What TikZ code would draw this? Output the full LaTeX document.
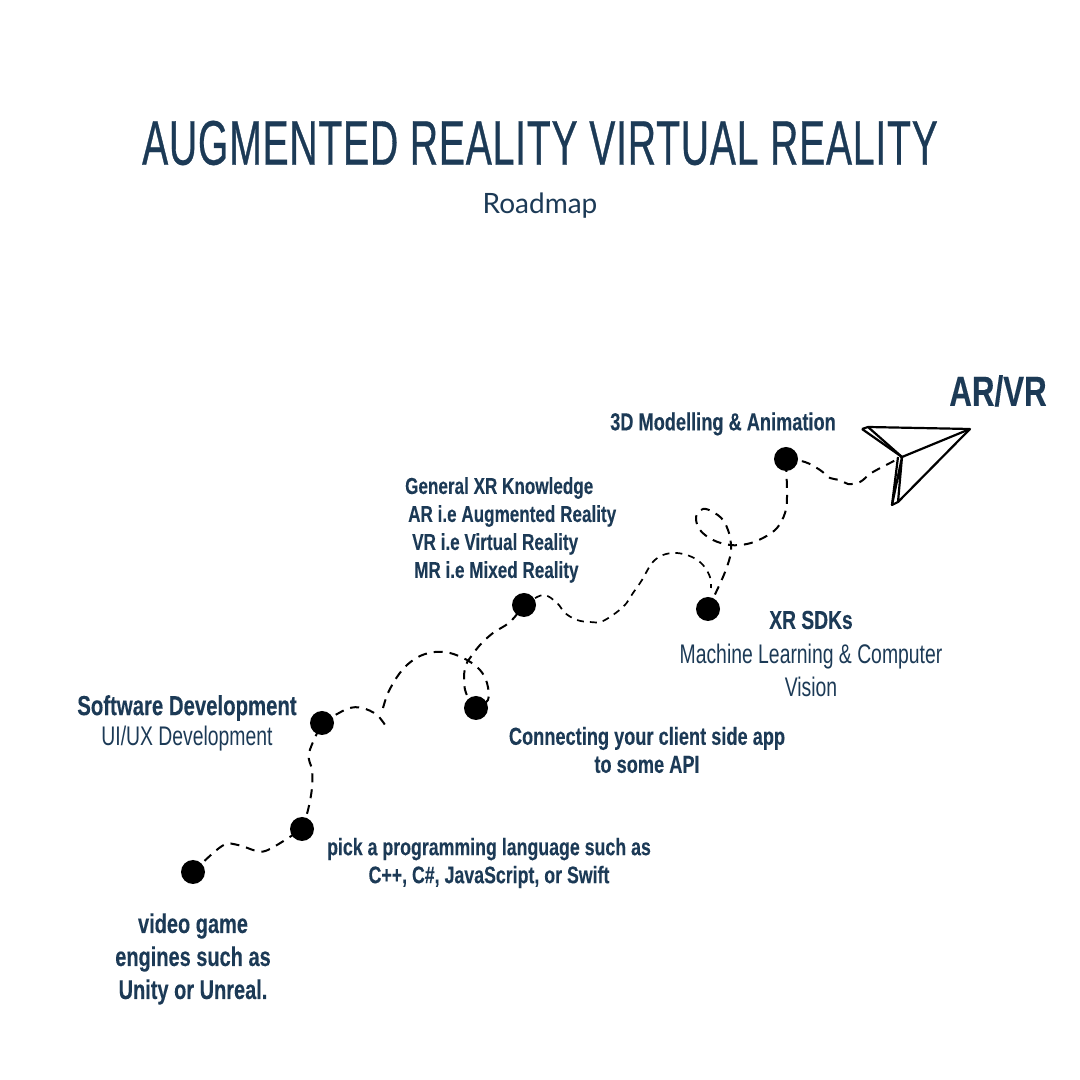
\documentclass[tikz,border=0pt]{standalone}
\usepackage{fontspec}
\usepackage{tikz}
\setmainfont{Lato}
\newfontfamily\titlefont[FakeStretch=0.62,FakeBold=0.5,LetterSpace=1.3]{Liberation Sans}
\newfontfamily\headfont[FakeStretch=0.72]{Liberation Sans}
\newfontfamily\headboldfont[FakeStretch=0.74,FakeBold=0.2]{Liberation Sans Bold}
\definecolor{navy}{HTML}{1C3A56}
\tikzset{
	spot/.style={circle,fill=black,minimum size=24pt,inner sep=0pt},
	trail/.style={black,line width=2pt,dash pattern=on 9pt off 7pt},
	finetrail/.style={black,line width=1.7pt,dash pattern=on 7pt off 6pt},
	wing/.style={black,line width=2.2pt,line join=round},
	boldlabel/.style={text=navy,inner sep=0pt,align=center,font=\headboldfont\fontsize{24}{28}\selectfont},
	plainlabel/.style={text=navy,inner sep=0pt,align=center,font=\headfont\fontsize{26.9}{33}\selectfont}
}
\begin{document}
\begin{tikzpicture}[x=1pt,y=1pt]
	\useasboundingbox (0,0) rectangle (1080,1080);
	% heading
	\node[text=navy,inner sep=0pt,font=\titlefont\fontsize{63}{70}\selectfont] (title) at (540,937) {AUGMENTED REALITY VIRTUAL REALITY};
	\node[text=navy,inner sep=0pt,font=\fontsize{28}{32}\selectfont] (subtitle) at (540,874) {Roadmap};
	% stops
	\node[spot] (engines)  at (193,208) {};
	\node[spot] (language) at (302,251) {};
	\node[spot] (software) at (322,357) {};
	\node[spot] (api)      at (476,372) {};
	\node[spot] (general)  at (524,475) {};
	\node[spot] (sdks)     at (708,471) {};
	\node[spot] (modelling) at (786,621) {};
	% plane
	\coordinate (wingleft)  at (862,651);
	\coordinate (wingtop)   at (868,653);
	\coordinate (nose)      at (970,651);
	\coordinate (fold)      at (902,623);
	\coordinate (foldin)    at (898,623);
	\coordinate (tail)      at (892,575);
	\coordinate (tailin)    at (898,578);
	\draw[wing] (wingleft) -- (wingtop) -- (nose) -- (fold) -- (wingleft);
	\draw[wing] (wingtop) -- (fold);
	\draw[wing] (nose) -- (tailin) -- (fold) -- (tail) -- (tailin);
	\draw[wing] (foldin) -- (tail);
	% free ends of the trail
	\coordinate (breakone) at (387,352);
	\coordinate (resumeone) at (383,372);
	\coordinate (breaktwo) at (711,492);
	% trail
	\draw[trail] plot[smooth,tension=.6] coordinates {(engines) (222,234) (238,235) (257,229) (270,231) (language)};
	\draw[trail] plot[smooth,tension=.6] coordinates {(language) (308,270) (312,292) (312,310) (309,327) (software)};
	\draw[trail] plot[smooth,tension=.6] coordinates {(software) (347,371) (362,372) (377,365) (breakone)};
	\draw[trail] plot[smooth,tension=.6] coordinates {(resumeone) (388,387) (397,403) (407,415) (420,424) (435,428) (450,427) (467,420) (480,410) (487,397) (488,380) (api)};
	\draw[trail] plot[smooth,tension=.6] coordinates {(api) (466,387) (464,403) (466,415) (470,422) (480,435) (493,447) (510,458) (general)};
	\draw[finetrail] plot[smooth,tension=.6] coordinates {(general) (543,485) (557,477) (565,467) (577,460) (590,458) (603,459) (623,473) (633,487) (642,500) (652,517) (663,525) (677,527) (692,523) (703,515) (710,503) (breaktwo)};
	\draw[trail] plot[smooth,tension=.6] coordinates {(sdks) (723,503) (730,523) (731,535) (729,547) (723,560) (713,568) (703,571) (696,563) (700,550) (713,540) (730,535) (747,536) (763,542) (777,552) (785,567) (787,583) (modelling)};
	\draw[trail] plot[smooth,tension=.6] coordinates {(modelling) (805,618) (820,610) (830,602) (840,600) (848,596) (860,598) (873,608) (fold)};
	% labels
	\node[text=navy,inner sep=0pt,font=\headboldfont\fontsize{42.3}{44}\selectfont] (goal) at (998,689) {AR/VR};
	\node[boldlabel,font=\headboldfont\fontsize{24.6}{28}\selectfont] (modellinglabel) at (723,656) {3D Modelling \& Animation};
	\node[boldlabel,align=left,anchor=west,font=\headboldfont\fontsize{23.1}{28}\selectfont] (generallabel) at (405,550) {General XR Knowledge\\\hspace*{3pt}AR i.e Augmented Reality\\\hspace*{7pt}VR i.e Virtual Reality\\\hspace*{9pt}MR i.e Mixed Reality};
	\node[boldlabel,font=\headboldfont\fontsize{27.5}{33}\selectfont] (softwarelabel) at (187,372) {Software Development};
	\node[plainlabel] (uxlabel) at (187,341) {UI/UX Development};
	\node[boldlabel,font=\headboldfont\fontsize{26}{33}\selectfont] (sdkslabel) at (811,460) {XR SDKs};
	\node[plainlabel] (visionlabel) at (811,409.5) {Machine Learning \& Computer\\Vision};
	\node[boldlabel,font=\headboldfont\fontsize{24.6}{28}\selectfont] (apilabel) at (647,330) {Connecting your client side app\\to some API};
	\node[boldlabel] (languagelabel) at (489,217) {pick a programming language such as\\C++, C\#, JavaScript, or Swift};
	\node[boldlabel,font=\headboldfont\fontsize{27}{33}\selectfont] (engineslabel) at (193,121) {video game\\engines such as\\Unity or Unreal.};
\end{tikzpicture}
\end{document}
